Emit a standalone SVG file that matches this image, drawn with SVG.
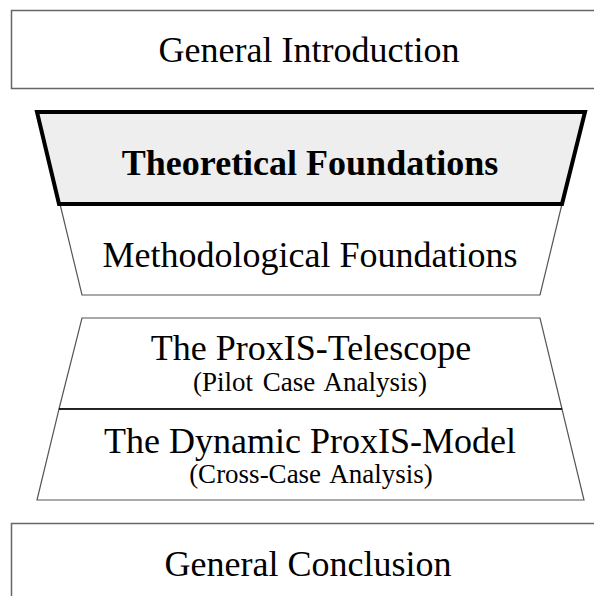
<svg xmlns="http://www.w3.org/2000/svg" width="594" height="596" viewBox="0 0 594 596">
<style>
text{font-family:"Liberation Serif","Times New Roman",serif;fill:#000;text-anchor:middle}
.t{font-size:36px}
.s{font-size:27px;word-spacing:3px}
.b{font-size:36px;font-weight:bold}
.box{fill:#fff;stroke:#666;stroke-width:1.5}
.thin{fill:#fff;stroke:#555;stroke-width:1.2}
</style>
<rect width="594" height="596" fill="#fff"/>
<g id="intro">
<rect class="box" x="11.5" y="10.5" width="600" height="78"/>
<text class="t" x="309" y="62">General Introduction</text>
</g>
<g id="methodological">
<polygon class="thin" points="60,204 562,204 540,295 82,295"/>
<text class="t" x="310" y="267">Methodological Foundations</text>
</g>
<g id="theoretical">
<polygon points="37,112 585,112 562,204 59,204" fill="#eeeeee" stroke="#000" stroke-width="4" stroke-linejoin="miter"/>
<text class="b" x="310" y="175">Theoretical Foundations</text>
</g>
<g id="telescope">
<polygon class="thin" points="82,318 540,318 562,409 59,409"/>
<text class="t" x="311" y="360">The ProxIS-Telescope</text>
<text class="s" x="310" y="391">(Pilot Case Analysis)</text>
</g>
<g id="model">
<polygon class="thin" points="59,409 562,409 584,500 37,500"/>
<line x1="59" y1="409" x2="562" y2="409" stroke="#000" stroke-width="1.5"/>
<text class="t" x="310" y="453">The Dynamic ProxIS-Model</text>
<text class="s" x="311" y="483">(Cross-Case Analysis)</text>
</g>
<g id="conclusion">
<rect class="box" x="11.5" y="523.5" width="600" height="100"/>
<text class="t" x="308" y="576">General Conclusion</text>
</g>
<g id="connectors"></g>
</svg>
